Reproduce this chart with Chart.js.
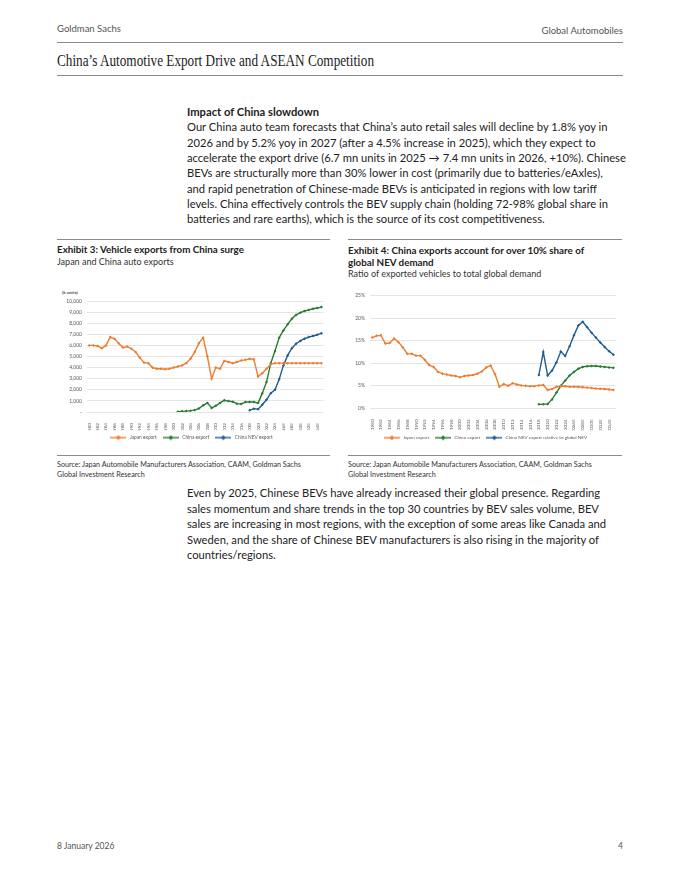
<!DOCTYPE html>
<html><head><meta charset="utf-8">
<script src="https://cdn.jsdelivr.net/npm/chart.js@4.4.1/dist/chart.umd.min.js"></script>
<style>
body{margin:0;width:680px;height:880px;background:#fff;position:relative;font-family:Lato,'Noto Sans',sans-serif;color:#222;overflow:hidden}
.a{position:absolute;white-space:nowrap}
.rule{position:absolute;height:0;border-top:1px solid #8a8a8a}
.fit{transform-origin:0 50%}
.p div{white-space:nowrap;transform-origin:0 50%}
.src{font-size:7.2px;line-height:10px;color:#333}
canvas{position:absolute}
</style></head><body>
<div class="a" style="left:57px;top:23px;font-size:9.5px;color:#555">Goldman Sachs</div>
<div class="a" style="right:57px;top:25px;font-size:9.5px;color:#555">Global Automobiles</div>
<div class="rule" style="left:57px;width:566px;top:42px"></div>
<div class="a fit" data-w="317" style="left:57px;top:52px;font-family:'Liberation Serif';font-size:16px;color:#222">China’s Automotive Export Drive and ASEAN Competition</div>
<div class="rule" style="left:57px;width:566px;top:75px"></div>

<div class="a p" id="p1" style="left:187px;top:104px;font-size:11px;line-height:15.33px;color:#222">
<div style="font-weight:bold">Impact of China slowdown</div>
<div data-w="419.4">Our China auto team forecasts that China’s auto retail sales will decline by 1.8% yoy in</div>
<div data-w="409.4">2026 and by 5.2% yoy in 2027 (after a 4.5% increase in 2025), which they expect to</div>
<div data-w="433.4">accelerate the export drive (6.7 mn units in 2025 → 7.4 mn units in 2026, +10%). Chinese</div>
<div data-w="419.4">BEVs are structurally more than 30% lower in cost (primarily due to batteries/eAxles),</div>
<div data-w="410.7">and rapid penetration of Chinese-made BEVs is anticipated in regions with low tariff</div>
<div data-w="420.4">levels. China effectively controls the BEV supply chain (holding 72-98% global share in</div>
<div data-w="359.4">batteries and rare earths), which is the source of its cost competitiveness.</div>
</div>

<div class="rule" style="left:57px;width:273px;top:239px"></div>
<div class="rule" style="left:348px;width:274px;top:239px"></div>
<div class="a" style="left:57px;top:244px;font-size:9.8px;line-height:11.5px;font-weight:bold">Exhibit 3: Vehicle exports from China surge</div>
<div class="a" style="left:57px;top:255.5px;font-size:9px;line-height:11.5px;color:#333">Japan and China auto exports</div>
<div class="a" style="left:348px;top:244px;font-size:9.8px;line-height:12px;font-weight:bold">Exhibit 4: China exports account for over 10% share of<br>global NEV demand</div>
<div class="a" style="left:348px;top:267.5px;font-size:9px;line-height:11.5px;color:#333">Ratio of exported vehicles to total global demand</div>

<div class="a" style="left:62px;top:289px;font-size:9px;font-weight:bold;color:#444;transform:scale(0.5);transform-origin:0 0">(k units)</div>
<canvas id="c1" width="273" height="164" style="left:57px;top:286px;width:273px;height:164px"></canvas>
<canvas id="c2" width="274" height="164" style="left:348px;top:286px;width:274px;height:164px"></canvas>

<div class="rule" style="left:57px;width:273px;top:455px"></div>
<div class="rule" style="left:348px;width:274px;top:455px"></div>
<div class="a src" style="left:57px;top:460px">Source: Japan Automobile Manufacturers Association, CAAM, Goldman Sachs<br>Global Investment Research</div>
<div class="a src" style="left:348px;top:460px">Source: Japan Automobile Manufacturers Association, CAAM, Goldman Sachs<br>Global Investment Research</div>

<div class="a p" id="p2" style="left:187px;top:485px;font-size:11px;line-height:15.6px;color:#222">
<div>Even by 2025, Chinese BEVs have already increased their global presence. Regarding</div>
<div>sales momentum and share trends in the top 30 countries by BEV sales volume, BEV</div>
<div>sales are increasing in most regions, with the exception of some areas like Canada and</div>
<div>Sweden, and the share of Chinese BEV manufacturers is also rising in the majority of</div>
<div>countries/regions.</div>
</div>

<div class="a" style="left:57px;top:841px;font-size:8.5px;color:#555">8 January 2026</div>
<div class="a" style="right:57px;top:841px;font-size:8.5px;color:#555">4</div>

<script>
// ---------- DATA ----------
const yearLabels = ['1980','1981','1982','1983','1984','1985','1986','1987','1988','1989',
 '1990','1991','1992','1993','1994','1995','1996','1997','1998','1999',
 '2000','2001','2002','2003','2004','2005','2006','2007','2008','2009',
 '2010','2011','2012','2013','2014','2015','2016','2017','2018','2019',
 '2020','2021','2022','2023','2024','2025E','2026E','2027E','2028E','2029E',
 '2030E','2031E','2032E','2033E','2034E','2035E'];

// Exhibit 3 (k units)
const japanExport = [6000,6000,5950,5750,6000,6750,6600,6200,5800,5900,
 5700,5400,4900,4450,4400,4000,3900,3900,3850,3900,
 4000,4100,4200,4400,4800,5400,6200,6700,5000,3000,
 4000,3900,4600,4500,4400,4500,4650,4700,4800,4750,
 3200,3500,3900,4300,4400,4400,4400,4400,4400,4400,
 4400,4400,4400,4400,4400,4400];
const chinaExport = [null,null,null,null,null,null,null,null,null,null,
 null,null,null,null,null,null,null,null,null,null,
 null,30,60,80,120,170,320,600,820,370,
 560,820,1050,980,920,750,720,890,900,900,
 800,1700,2700,4400,5500,6700,7350,7900,8400,8750,
 8950,9100,9200,9300,9370,9450];
const chinaNevExport = [null,null,null,null,null,null,null,null,null,null,
 null,null,null,null,null,null,null,null,null,null,
 null,null,null,null,null,null,null,null,null,null,
 null,null,null,null,null,null,null,null,150,300,
 250,650,1100,1700,2000,2950,4200,5100,5750,6150,
 6400,6600,6750,6850,6950,7100];

// Exhibit 4 (%)
const japanRatio = [15.7,16.1,16.2,14.4,14.5,15.5,14.7,13.5,12.1,12.1,
 11.7,11.7,10.8,9.6,9.2,8.1,7.7,7.5,7.3,7.2,
 6.9,7.2,7.3,7.4,7.7,8.2,9.1,9.5,7.6,4.8,
 5.4,5.0,5.6,5.3,5.1,5.0,4.9,4.9,5.1,5.2,
 4.1,4.3,4.8,4.9,4.9,4.8,4.8,4.8,4.7,4.6,
 4.5,4.4,4.35,4.3,4.2,4.1];
const chinaRatio = [null,null,null,null,null,null,null,null,null,null,
 null,null,null,null,null,null,null,null,null,null,
 null,null,null,null,null,null,null,null,null,null,
 null,null,null,null,null,null,null,null,0.9,0.9,
 1.0,2.0,3.5,5.0,6.2,7.3,8.1,8.8,9.2,9.35,
 9.4,9.4,9.3,9.2,9.1,9.0];
const chinaNevRatio = [null,null,null,null,null,null,null,null,null,null,
 null,null,null,null,null,null,null,null,null,null,
 null,null,null,null,null,null,null,null,null,null,
 null,null,null,null,null,null,null,null,7.4,12.5,
 7.3,8.4,10.2,12.6,11.6,13.8,16.2,18.4,19.2,18.0,
 16.8,15.7,14.6,13.6,12.7,11.9];

const seriesNames1 = ['Japan export','China export','China NEV export'];
const seriesNames2 = ['Japan export','China export','China NEV export relative to global NEV'];
const yTicks1Max = 10000, yTicks1Step = 1000;
const yTicks2Max = 25, yTicks2Step = 5;

// ---------- STYLE ----------
const COLORS = ['#ED7D31','#2A7B34','#235D8E'];
const TICK = '#595959', GRID = '#D9D9D9';
const FONT = 'Lato, "Noto Sans", sans-serif';

(function(){
  document.querySelectorAll('.fit').forEach(el=>{
    const w = el.getBoundingClientRect().width;
    el.style.transform = 'scaleX(' + (parseFloat(el.dataset.w)/w) + ')';
  });
  const lines = [...document.querySelectorAll('#p1 div[data-w]')];
  let t=0, a=0;
  lines.forEach(el=>{ el.style.display='inline-block'; a += el.getBoundingClientRect().width; t += parseFloat(el.dataset.w); el.style.display='block'; });
  const f = t/a;
  document.querySelectorAll('.p div').forEach(el=>{ el.style.transform='scaleX('+f+')'; });
})();

function legendImg(color){
  const c=document.createElement('canvas'); c.width=16; c.height=6;
  const g=c.getContext('2d');
  g.strokeStyle=color; g.lineWidth=1.4;
  g.beginPath(); g.moveTo(0,3); g.lineTo(16,3); g.stroke();
  g.fillStyle=color; g.beginPath(); g.moveTo(8,0.6); g.lineTo(10.4,3); g.lineTo(8,5.4); g.lineTo(5.6,3); g.closePath(); g.fill();
  return c;
}
const legendImgs = COLORS.map(legendImg);

function ds(label, data, i){
  return {label, data, borderColor:COLORS[i], backgroundColor:COLORS[i], borderWidth:1.4,
    pointStyle:'rectRot', pointRadius:1.5, pointBorderWidth:0, tension:0, spanGaps:false};
}

function makeChart(id, names, datas, yMax, yStep, yWidth, tickCb, xHeight, padTop, padRight, legendFont){
  return new Chart(document.getElementById(id), {
    type:'line',
    data:{labels:yearLabels, datasets:datas.map((d,i)=>ds(names[i], d, i))},
    options:{
      responsive:false, animation:false, devicePixelRatio: window.devicePixelRatio||1,
      layout:{padding:{top:padTop, right:padRight, left:0, bottom:0}},
      plugins:{
        tooltip:{enabled:false},
        legend:{position:'bottom', labels:{
          usePointStyle:true, pointStyleWidth:18, padding:5, color:TICK,
          font:{family:FONT, size:legendFont},
          generateLabels(chart){
            const items = Chart.defaults.plugins.legend.labels.generateLabels(chart);
            items.forEach((it,i)=>{ it.pointStyle = legendImgs[i]; });
            return items;
          }
        }}
      },
      scales:{
        x:{offset:true, grid:{display:false}, border:{display:false},
          ticks:{autoSkip:false, maxRotation:90, minRotation:90, padding:3, color:TICK,
            font:{family:FONT, size:4.6},
            callback:(v,i)=> i%2===0 ? yearLabels[i] : ''},
          afterFit:s=>{ s.height = xHeight; }},
        y:{min:0, max:yMax, border:{display:false},
          grid:{color:GRID, lineWidth:0.7, drawTicks:false},
          ticks:{stepSize:yStep, padding:5, color:TICK, font:{family:FONT, size:5}, callback:tickCb},
          afterFit:s=>{ s.width = yWidth; }}
      }
    }
  });
}

makeChart('c1', seriesNames1, [japanExport, chinaExport, chinaNevExport], yTicks1Max, yTicks1Step, 30,
  v => v===0 ? '-' : v.toLocaleString('en-US'), 18.2, 15, 5, 4.8);
makeChart('c2', seriesNames2, [japanRatio, chinaRatio, chinaNevRatio], yTicks2Max, yTicks2Step, 22,
  v => v + '%', 22, 9.7, 0, 4.6);
</script>
</body></html>
